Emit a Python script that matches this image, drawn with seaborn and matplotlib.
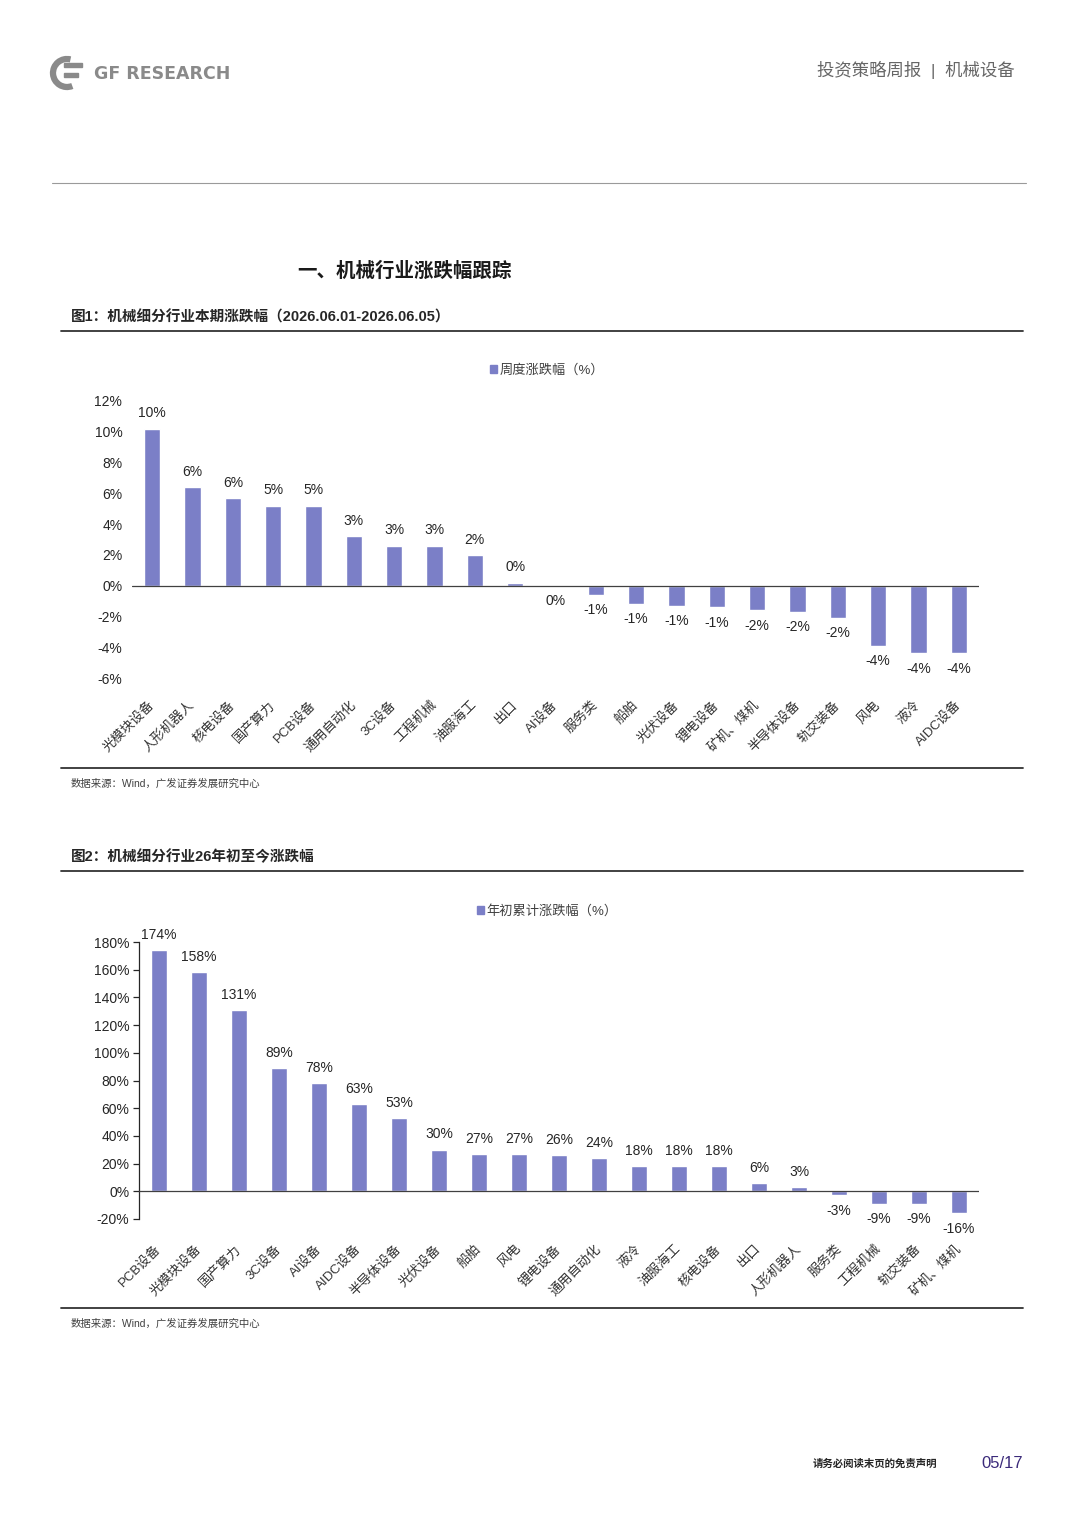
import pandas as pd
import seaborn as sns
import matplotlib.pyplot as plt
from matplotlib.lines import Line2D
from matplotlib.patches import Patch, Arc, Rectangle

# ---- dados ----
cats_semana = ['光模块设备', '人形机器人', '核电设备', '国产算力', 'PCB设备', '通用自动化', '3C设备',
               '工程机械', '油服海工', '出口', 'AI设备', '服务类', '船舶', '光伏设备', '锂电设备',
               '矿机、煤机', '半导体设备', '轨交装备', '风电', '液冷', 'AIDC设备']
vals_semana = [10.2, 6.4, 5.7, 5.2, 5.2, 3.2, 2.6, 2.6, 2.0, 0.2, -0.02, -0.6, -1.2, -1.3, -1.4,
               -1.6, -1.7, -2.1, -3.9, -4.4, -4.4]

cats_ano = ['PCB设备', '光模块设备', '国产算力', '3C设备', 'AI设备', 'AIDC设备', '半导体设备', '光伏设备',
            '船舶', '风电', '锂电设备', '通用自动化', '液冷', '油服海工', '核电设备', '出口', '人形机器人',
            '服务类', '工程机械', '轨交装备', '矿机、煤机']
vals_ano = [174, 158, 131, 89, 78, 63, 53, 30, 27, 27, 26, 24, 18, 18, 18, 6, 3, -3, -9, -9, -16]

ticks_semana = [-6, -4, -2, 0, 2, 4, 6, 8, 10, 12]
ticks_ano = [-20, 0, 20, 40, 60, 80, 100, 120, 140, 160, 180]

COR_BARRA = '#7b7fc7'
W, H = 1080, 1527

sns.set_theme(style='white')
plt.rcParams['font.family'] = ['Liberation Sans', 'Noto Sans CJK SC', 'DejaVu Sans']
plt.rcParams['axes.unicode_minus'] = False

fig = plt.figure(figsize=(W / 100, H / 100), dpi=100)


def caixa(x0, y0, x1, y1):
    # converte pixels (origem no topo) para coordenadas da figura
    return [x0 / W, 1 - y1 / H, (x1 - x0) / W, (y1 - y0) / H]


def linha(x0, x1, y, cor, lw):
    fig.add_artist(Line2D([x0 / W, x1 / W], [1 - y / H, 1 - y / H], color=cor, lw=lw,
                          transform=fig.transFigure))


def texto(x, y, s, **kw):
    fig.text(x / W, 1 - y / H, s, **kw)


def fmt_pct(v):
    r = round(v)
    return '0%' if r == 0 else f'{r:d}%'


def grafico(rect, cats, vals, ticks, legenda, spine_esq, pad_x, leg_x):
    ax = fig.add_axes(caixa(*rect))
    df = pd.DataFrame({'cat': cats, 'val': vals})
    sns.barplot(data=df, x='cat', y='val', order=cats, color=COR_BARRA, width=0.4,
                saturation=1, ax=ax)
    ax.set_ylim(ticks[0], ticks[-1])
    ax.set_xlim(-0.5, len(cats) - 0.5)
    ax.set_yticks(ticks)
    ax.set_yticklabels([f'{t}%' for t in ticks], fontsize=10, color='#262626')
    ax.set_xlabel('')
    ax.set_ylabel('')
    ax.axhline(0, color='#404040', lw=0.9, zorder=3)
    for s in ax.spines.values():
        s.set_visible(False)
    if spine_esq:
        ax.spines['left'].set_visible(True)
        ax.spines['left'].set_color('#262626')
        ax.spines['left'].set_linewidth(0.9)
        ax.tick_params(axis='y', left=True, length=4, width=0.9, color='#262626', pad=3)
    else:
        ax.tick_params(axis='y', left=False, length=0, pad=7)
    ax.tick_params(axis='x', bottom=False, pad=pad_x)
    ax.set_xticks(range(len(cats)))
    ax.set_xticklabels(cats, rotation=45, ha='right', va='center', rotation_mode='anchor',
                       fontsize=9.5, color='#333333')
    ax.bar_label(ax.containers[0], labels=[fmt_pct(v) for v in vals], padding=6,
                 fontsize=10, color='#262626', clip_on=False)
    ax.legend(handles=[Patch(color=COR_BARRA, label=legenda)], loc='lower center',
              bbox_to_anchor=(leg_x, 1.0 + 0.045), frameon=False, fontsize=9.5,
              handlelength=0.5, handleheight=0.5, handletextpad=0.2, labelcolor='#404040')
    ax.patch.set_alpha(0)
    return ax


# ---- cabeçalho ----
logo_x, logo_y = 67 / W, 1 - 73 / H
fig.add_artist(Arc((logo_x, logo_y), 28 / W, 28 / H, theta1=70, theta2=300, lw=4.5,
                   color='#8a8a8a', transform=fig.transFigure))
fig.add_artist(Rectangle((64 / W, 1 - 67 / H), 18 / W, 4 / H, color='#8a8a8a',
                         transform=fig.transFigure))
fig.add_artist(Rectangle((64 / W, 1 - 77 / H), 14 / W, 4 / H, color='#8a8a8a',
                         transform=fig.transFigure))
texto(94, 74, 'GF RESEARCH', fontsize=12.5, fontweight='bold', color='#8a8a8a',
      va='center', ha='left', family=['DejaVu Sans'])
texto(1015, 70, '投资策略周报  |  机械设备', fontsize=12.5, fontweight='medium', color='#666666',
      ha='right', va='center')
linha(52, 1026, 183, '#9a9a9a', 0.8)

texto(405, 271, '一、机械行业涨跌幅跟踪', fontsize=14, fontweight='bold', color='#1a1a1a',
      ha='center', va='center')

# ---- figura 1 ----
texto(71, 317, '图1：机械细分行业本期涨跌幅（2026.06.01-2026.06.05）', fontsize=10.5,
      fontweight='bold', color='#262626', ha='left', va='center')
linha(61, 1023, 331, '#333333', 1.3)
grafico((132, 401, 979, 678), cats_semana, vals_semana, ticks_semana, '周度涨跌幅（%）',
        False, 12, 0.49)
linha(61, 1023, 768, '#333333', 1.3)
texto(71, 784, '数据来源：Wind，广发证券发展研究中心', fontsize=7.5, color='#404040',
      ha='left', va='center')

# ---- figura 2 ----
texto(71, 857, '图2：机械细分行业26年初至今涨跌幅', fontsize=10.5, fontweight='bold',
      color='#262626', ha='left', va='center')
linha(61, 1023, 871, '#333333', 1.3)
grafico((139, 942, 979, 1219), cats_ano, vals_ano, ticks_ano, '年初累计涨跌幅（%）', True, 14,
        0.486)
linha(61, 1023, 1308, '#333333', 1.3)
texto(71, 1324, '数据来源：Wind，广发证券发展研究中心', fontsize=7.5, color='#404040',
      ha='left', va='center')

# ---- rodapé ----
texto(937, 1464, '请务必阅读末页的免责声明', fontsize=7.5, fontweight='bold', color='#262626',
      ha='right', va='center')
texto(1023, 1464, '05/17', fontsize=12, fontweight='medium', color='#3b2a7a', ha='right',
      va='center')

fig.savefig('out.png', dpi=100)
